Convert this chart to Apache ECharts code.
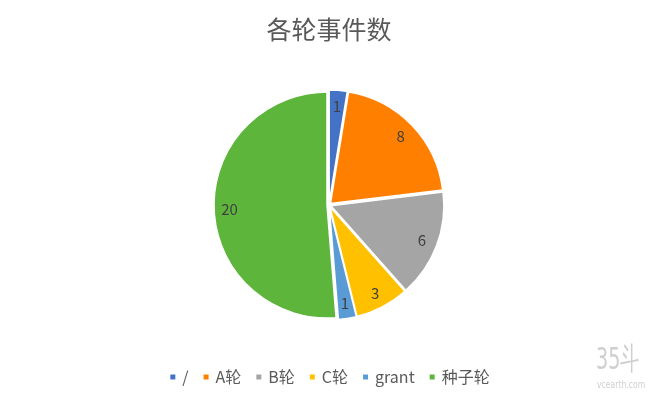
<!DOCTYPE html>
<html>
<head>
<meta charset="utf-8">
<script src="https://cdn.jsdelivr.net/npm/echarts@6/dist/echarts.min.js"></script>
<style>
html,body{margin:0;padding:0;background:#fff;}
#main{width:658px;height:400px;}
</style>
</head>
<body>
<div id="main"></div>
<script>
const titleText = '各轮事件数';
const categories = ['/', 'A轮', 'B轮', 'C轮', 'grant', '种子轮'];
const values = [1, 8, 6, 3, 1, 20];
const colors = ['#4472C4', '#FF7F00', '#A5A5A5', '#FFC000', '#5B9BD5', '#5DB53C'];

const chart = echarts.init(document.getElementById('main'));
const data = categories.map((c, i) => ({name: c, value: values[i], selected: true}));
const labelData = categories.map((c, i) => ({name: c, value: values[i], selected: true}));
const font = '"Noto Sans CJK SC", "Noto Sans", sans-serif';
chart.setOption({
  animation: false,
  color: colors,
  title: {
    text: titleText, left: 'center', top: 12,
    textStyle: {fontSize: 25, fontWeight: 'normal', color: '#595959', fontFamily: font}
  },
  legend: {
    data: categories, top: 364, left: 'center',
    itemWidth: 7, itemHeight: 7, itemGap: 13, icon: 'rect',
    textStyle: {fontSize: 16, color: '#595959', fontFamily: font, padding: [0, 0, 0, 1]}
  },
  graphic: [
    {type: 'text', x: 596, y: 345, scaleX: 0.62, style: {text: '35斗', fontSize: 31, fill: '#cfcfcf', fontFamily: '"DejaVu Sans", sans-serif'}},
    {type: 'text', x: 597, y: 380, scaleX: 0.7, style: {text: 'vcearth.com', fontSize: 11, fill: '#cfcfcf', fontFamily: '"DejaVu Sans", sans-serif'}}
  ],
  series: [
    {
      type: 'pie', center: [329, 205], radius: [0, 113],
      startAngle: 90, clockwise: true,
      selectedMode: 'multiple', selectedOffset: 2,
      itemStyle: {borderColor: '#fff', borderWidth: 1.5},
      label: {show: false}, labelLine: {show: false},
      emphasis: {disabled: true},
      data: data
    },
    {
      type: 'pie', center: [329, 205], radius: [76, 113],
      startAngle: 90, clockwise: true,
      selectedMode: 'multiple', selectedOffset: 2,
      itemStyle: {color: 'transparent', borderWidth: 0},
      label: {show: true, position: 'inside', formatter: '{c}', fontSize: 15, color: '#404040', fontFamily: font},
      labelLine: {show: false},
      emphasis: {disabled: true}, silent: true,
      data: labelData
    }
  ]
});
</script>
</body>
</html>
